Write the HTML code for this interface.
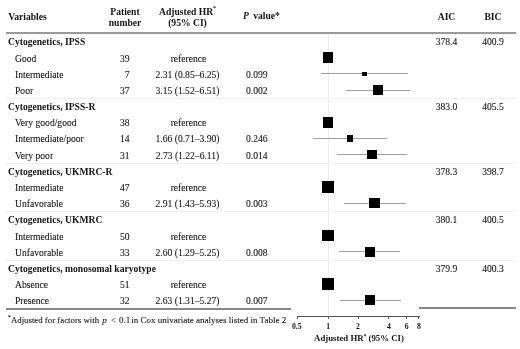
<!DOCTYPE html>
<html><head><meta charset="utf-8"><style>
html,body{margin:0;padding:0;background:#fff;}
body{width:520px;height:349px;position:relative;overflow:hidden;font-family:"Liberation Serif",serif;color:#151515;}
.t{position:absolute;height:0;white-space:nowrap;font-size:9.6px;line-height:0;-webkit-text-stroke:0.1px #151515;}
.t span{display:inline-block;line-height:0;vertical-align:baseline;}
.b{font-weight:bold;-webkit-text-stroke:0;}
.sm{font-size:7.7px;}
.ax{font-size:8.8px;}
.fn{font-size:9px;}
sup.fs{top:-0.75em;}
sup.hs{top:-0.85em;}
.l{position:absolute;}
#w{position:absolute;left:0;top:0;width:520px;height:349px;background:#fff;filter:blur(0.3px);}
sup{font-size:60%;line-height:0;vertical-align:baseline;position:relative;top:-0.55em;}
</style></head><body><div id="w">
<div class="t b" style="top:16.96px;left:8.20px;"><span>Variables</span></div><div class="t b" style="top:11.66px;left:25.00px;width:200px;text-align:center;"><span>Patient</span></div><div class="t b" style="top:22.96px;left:25.00px;width:200px;text-align:center;"><span>number</span></div><div class="t b" style="top:12.06px;left:87.50px;width:200px;text-align:center;"><span>Adjusted HR<sup class="hs">*</sup></span></div><div class="t b" style="top:23.36px;left:87.50px;width:200px;text-align:center;"><span>(95% CI)</span></div><div class="t b" style="top:16.16px;left:243.00px;"><span><i>P</i></span></div><div class="t b" style="top:16.16px;left:253.20px;"><span>value*</span></div><div class="t b" style="top:16.56px;left:346.50px;width:200px;text-align:center;"><span>AIC</span></div><div class="t b" style="top:16.56px;left:393.00px;width:200px;text-align:center;"><span>BIC</span></div><div class="l" style="left:6.00px;top:32.00px;width:510.00px;height:2px;background:#999"></div><div class="l" style="left:327.50px;top:34.00px;width:1px;height:282.00px;background:#ececec"></div><div class="t b" style="top:42.46px;left:8.00px;"><span>Cytogenetics, IPSS</span></div><div class="t " style="top:42.16px;left:346.50px;width:200px;text-align:center;"><span>378.4</span></div><div class="t " style="top:42.16px;left:393.00px;width:200px;text-align:center;"><span>400.9</span></div><div class="t " style="top:58.63px;left:15.00px;"><span>Good</span></div><div class="t " style="top:58.63px;right:390.50px;"><span>39</span></div><div class="t " style="top:58.63px;left:88.50px;width:200px;text-align:center;"><span>reference</span></div><div class="l" style="left:322.80px;top:52.47px;width:10.40px;height:10.40px;background:#000"></div><div class="t " style="top:74.80px;left:15.00px;"><span>Intermediate</span></div><div class="t " style="top:74.80px;right:390.50px;"><span>7</span></div><div class="t " style="top:74.80px;left:87.50px;width:200px;text-align:center;"><span>2.31 (0.85&ndash;6.25)</span></div><div class="t " style="top:74.80px;left:246.00px;"><span>0.099</span></div><div class="l" style="left:320.90px;top:73.34px;width:87.21px;height:1px;background:#a0a0a0"></div><div class="l" style="left:362.40px;top:71.64px;width:4.40px;height:4.40px;background:#000"></div><div class="t " style="top:90.97px;left:15.00px;"><span>Poor</span></div><div class="t " style="top:90.97px;right:390.50px;"><span>37</span></div><div class="t " style="top:90.97px;left:87.50px;width:200px;text-align:center;"><span>3.15 (1.52&ndash;6.51)</span></div><div class="t " style="top:90.97px;left:246.00px;"><span>0.002</span></div><div class="l" style="left:346.30px;top:89.51px;width:63.59px;height:1px;background:#a0a0a0"></div><div class="l" style="left:373.26px;top:85.11px;width:9.80px;height:9.80px;background:#000"></div><div class="t b" style="top:107.14px;left:8.00px;"><span>Cytogenetics, IPSS-R</span></div><div class="t " style="top:106.84px;left:346.50px;width:200px;text-align:center;"><span>383.0</span></div><div class="t " style="top:106.84px;left:393.00px;width:200px;text-align:center;"><span>405.5</span></div><div class="l" style="left:6.00px;top:97.88px;width:510.00px;height:1px;background:#efefef"></div><div class="t " style="top:123.31px;left:15.00px;"><span>Very good/good</span></div><div class="t " style="top:123.31px;right:390.50px;"><span>38</span></div><div class="t " style="top:123.31px;left:88.50px;width:200px;text-align:center;"><span>reference</span></div><div class="l" style="left:322.80px;top:117.15px;width:10.40px;height:10.40px;background:#000"></div><div class="t " style="top:139.48px;left:15.00px;"><span>Intermediate/poor</span></div><div class="t " style="top:139.48px;right:390.50px;"><span>14</span></div><div class="t " style="top:139.48px;left:87.50px;width:200px;text-align:center;"><span>1.66 (0.71&ndash;3.90)</span></div><div class="t " style="top:139.48px;left:246.00px;"><span>0.246</span></div><div class="l" style="left:313.03px;top:138.02px;width:74.46px;height:1px;background:#a0a0a0"></div><div class="l" style="left:347.10px;top:135.47px;width:6.10px;height:6.10px;background:#000"></div><div class="t " style="top:155.65px;left:15.00px;"><span>Very poor</span></div><div class="t " style="top:155.65px;right:390.50px;"><span>31</span></div><div class="t " style="top:155.65px;left:87.50px;width:200px;text-align:center;"><span>2.73 (1.22&ndash;6.11)</span></div><div class="t " style="top:155.65px;left:246.00px;"><span>0.014</span></div><div class="l" style="left:336.69px;top:154.19px;width:70.43px;height:1px;background:#a0a0a0"></div><div class="l" style="left:367.20px;top:149.99px;width:9.40px;height:9.40px;background:#000"></div><div class="t b" style="top:171.82px;left:8.00px;"><span>Cytogenetics, UKMRC-R</span></div><div class="t " style="top:171.52px;left:346.50px;width:200px;text-align:center;"><span>378.3</span></div><div class="t " style="top:171.52px;left:393.00px;width:200px;text-align:center;"><span>398.7</span></div><div class="l" style="left:6.00px;top:162.56px;width:510.00px;height:1px;background:#efefef"></div><div class="t " style="top:187.99px;left:15.00px;"><span>Intermediate</span></div><div class="t " style="top:187.99px;right:390.50px;"><span>47</span></div><div class="t " style="top:187.99px;left:88.50px;width:200px;text-align:center;"><span>reference</span></div><div class="l" style="left:322.10px;top:181.13px;width:11.80px;height:11.80px;background:#000"></div><div class="t " style="top:204.16px;left:15.00px;"><span>Unfavorable</span></div><div class="t " style="top:204.16px;right:390.50px;"><span>36</span></div><div class="t " style="top:204.16px;left:87.50px;width:200px;text-align:center;"><span>2.91 (1.43&ndash;5.93)</span></div><div class="t " style="top:204.16px;left:246.00px;"><span>0.003</span></div><div class="l" style="left:343.64px;top:202.70px;width:62.18px;height:1px;background:#a0a0a0"></div><div class="l" style="left:369.49px;top:198.00px;width:10.40px;height:10.40px;background:#000"></div><div class="t b" style="top:220.33px;left:8.00px;"><span>Cytogenetics, UKMRC</span></div><div class="t " style="top:220.03px;left:346.50px;width:200px;text-align:center;"><span>380.1</span></div><div class="t " style="top:220.03px;left:393.00px;width:200px;text-align:center;"><span>400.5</span></div><div class="l" style="left:6.00px;top:211.07px;width:510.00px;height:1px;background:#efefef"></div><div class="t " style="top:236.50px;left:15.00px;"><span>Intermediate</span></div><div class="t " style="top:236.50px;right:390.50px;"><span>50</span></div><div class="t " style="top:236.50px;left:88.50px;width:200px;text-align:center;"><span>reference</span></div><div class="l" style="left:322.05px;top:229.59px;width:11.90px;height:11.90px;background:#000"></div><div class="t " style="top:252.67px;left:15.00px;"><span>Unfavorable</span></div><div class="t " style="top:252.67px;right:390.50px;"><span>33</span></div><div class="t " style="top:252.67px;left:87.50px;width:200px;text-align:center;"><span>2.60 (1.29&ndash;5.25)</span></div><div class="t " style="top:252.67px;left:246.00px;"><span>0.008</span></div><div class="l" style="left:339.13px;top:251.21px;width:61.36px;height:1px;background:#a0a0a0"></div><div class="l" style="left:364.92px;top:246.86px;width:9.70px;height:9.70px;background:#000"></div><div class="t b" style="top:268.84px;left:8.00px;"><span>Cytogenetics, monosomal karyotype</span></div><div class="t " style="top:268.54px;left:346.50px;width:200px;text-align:center;"><span>379.9</span></div><div class="t " style="top:268.54px;left:393.00px;width:200px;text-align:center;"><span>400.3</span></div><div class="l" style="left:6.00px;top:259.58px;width:510.00px;height:1px;background:#efefef"></div><div class="t " style="top:285.01px;left:15.00px;"><span>Absence</span></div><div class="t " style="top:285.01px;right:390.50px;"><span>51</span></div><div class="t " style="top:285.01px;left:88.50px;width:200px;text-align:center;"><span>reference</span></div><div class="l" style="left:322.05px;top:278.10px;width:11.90px;height:11.90px;background:#000"></div><div class="t " style="top:301.18px;left:15.00px;"><span>Presence</span></div><div class="t " style="top:301.18px;right:390.50px;"><span>32</span></div><div class="t " style="top:301.18px;left:87.50px;width:200px;text-align:center;"><span>2.63 (1.31&ndash;5.27)</span></div><div class="t " style="top:301.18px;left:246.00px;"><span>0.007</span></div><div class="l" style="left:339.80px;top:299.72px;width:60.85px;height:1px;background:#a0a0a0"></div><div class="l" style="left:365.42px;top:295.37px;width:9.70px;height:9.70px;background:#000"></div><div class="l" style="left:6.00px;top:308.00px;width:284.50px;height:1.5px;background:#888"></div><div class="l" style="left:419.00px;top:307.00px;width:97.00px;height:1.5px;background:#888"></div><div class="l" style="left:297.00px;top:316.00px;width:122.50px;height:1px;background:#555"></div><div class="l" style="left:297.20px;top:316.00px;width:1px;height:2.80px;background:#555"></div><div class="t b sm" style="top:327.00px;left:196.80px;width:200px;text-align:center;"><span>0.5</span></div><div class="l" style="left:327.50px;top:316.00px;width:1px;height:2.80px;background:#555"></div><div class="t b sm" style="top:327.00px;left:228.20px;width:200px;text-align:center;"><span>1</span></div><div class="l" style="left:357.80px;top:316.00px;width:1px;height:2.80px;background:#555"></div><div class="t b sm" style="top:327.00px;left:257.90px;width:200px;text-align:center;"><span>2</span></div><div class="l" style="left:388.10px;top:316.00px;width:1px;height:2.80px;background:#555"></div><div class="t b sm" style="top:327.00px;left:289.00px;width:200px;text-align:center;"><span>4</span></div><div class="l" style="left:405.82px;top:316.00px;width:1px;height:2.80px;background:#555"></div><div class="t b sm" style="top:327.00px;left:306.67px;width:200px;text-align:center;"><span>6</span></div><div class="l" style="left:418.40px;top:316.00px;width:1px;height:2.80px;background:#555"></div><div class="t b sm" style="top:327.00px;left:318.90px;width:200px;text-align:center;"><span>8</span></div><div class="t b ax" style="top:337.83px;left:259.00px;width:200px;text-align:center;"><span>Adjusted HR<sup>*</sup> (95% CI)</span></div><div class="t fn" style="top:319.96px;left:8.00px;"><span><sup class="fs">*</sup></span></div><div class="t fn" style="top:319.96px;left:10.90px;"><span><span style="font-size:8.8px">Adjusted for factors with</span></span></div><div class="t fn" style="top:319.96px;left:102.30px;"><span><i>p</i></span></div><div class="t fn" style="top:319.96px;left:111.00px;"><span>&lt;</span></div><div class="t fn" style="top:319.96px;left:119.10px;"><span>0.1</span></div><div class="t fn" style="top:319.96px;left:131.30px;"><span>in Cox univariate analyses listed in Table 2</span></div>
</div></body></html>
